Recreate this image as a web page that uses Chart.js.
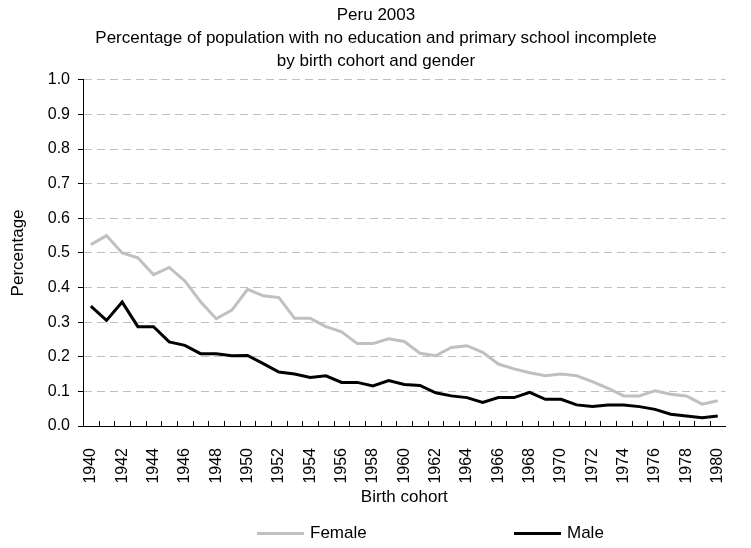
<!DOCTYPE html>
<html>
<head>
<meta charset="utf-8">
<script src="https://cdn.jsdelivr.net/npm/chart.js@4/dist/chart.umd.min.js"></script>
<style>
  html, body { margin: 0; padding: 0; background: #fff; }
  #wrap { position: relative; width: 751px; height: 548px; }
  #legend { position: absolute; left: 0; top: 523px; width: 751px; font: 17px "Liberation Sans", Arial, sans-serif; color: #000; }
  .item { position: absolute; top: 0; display: flex; align-items: center; line-height: 20px; }
  .swatch { display: inline-block; width: 47px; height: 3px; margin-right: 6px; }
</style>
</head>
<body>
<div id="wrap">
  <canvas id="myChart" width="751" height="548"></canvas>
  <div id="legend"></div>
</div>
<script>
const years = [];
for (let y = 1940; y <= 1980; y++) years.push(String(y));

const female = [0.524, 0.550, 0.500, 0.486, 0.437, 0.458, 0.419, 0.359, 0.310, 0.335,
  0.395, 0.376, 0.371, 0.311, 0.311, 0.287, 0.272, 0.238, 0.238, 0.252,
  0.244, 0.210, 0.203, 0.227, 0.232, 0.213, 0.179, 0.165, 0.154, 0.145,
  0.150, 0.145, 0.128, 0.109, 0.087, 0.087, 0.102, 0.092, 0.087, 0.063, 0.073];

const male = [0.346, 0.305, 0.358, 0.287, 0.287, 0.243, 0.233, 0.209, 0.209, 0.203,
  0.204, 0.180, 0.156, 0.150, 0.140, 0.145, 0.126, 0.126, 0.116, 0.131,
  0.120, 0.117, 0.096, 0.087, 0.082, 0.068, 0.082, 0.082, 0.097, 0.077,
  0.077, 0.061, 0.056, 0.061, 0.061, 0.056, 0.048, 0.034, 0.029, 0.024, 0.029];

const titleLines = [
  "Peru 2003",
  "Percentage of population with no education and primary school incomplete",
  "by birth cohort and gender"
];

const FONT = "'Liberation Sans', Arial, sans-serif";

// Excel style tick marks between categories, pointing up into the plot
const innerTicks = {
  id: "innerTicks",
  afterDatasetsDraw(chart) {
    const x = chart.scales.x;
    const ctx = chart.ctx;
    const bottom = chart.chartArea.bottom;
    ctx.save();
    ctx.strokeStyle = "#000";
    ctx.lineWidth = 1;
    ctx.beginPath();
    for (let i = 1; i < years.length; i++) {
      const px = Math.round((x.getPixelForValue(i - 1) + x.getPixelForValue(i)) / 2) + 0.5;
      ctx.moveTo(px, bottom);
      ctx.lineTo(px, bottom - 5);
    }
    ctx.stroke();
    ctx.restore();
  }
};

const chart = new Chart(document.getElementById("myChart").getContext("2d"), {
  type: "line",
  data: {
    labels: years,
    datasets: [
      { label: "Female", data: female, borderColor: "#c0c0c0", backgroundColor: "#c0c0c0", borderWidth: 3, pointRadius: 0, tension: 0 },
      { label: "Male", data: male, borderColor: "#000000", backgroundColor: "#000000", borderWidth: 3, pointRadius: 0, tension: 0 }
    ]
  },
  options: {
    responsive: false,
    animation: false,
    layout: { padding: { left: 4, right: 3, top: 0, bottom: 36 } },
    plugins: {
      legend: { display: false },
      tooltip: { enabled: false },
      title: {
        display: true,
        text: titleLines,
        color: "#000",
        font: { family: FONT, size: 17, weight: "normal", lineHeight: 1.35 },
        padding: { top: 4, bottom: 7 }
      }
    },
    scales: {
      x: {
        offset: true,
        grid: { display: false, offset: true },
        border: { display: true, color: "#000", width: 1 },
        ticks: {
          autoSkip: false,
          maxRotation: 90,
          minRotation: 90,
          color: "#000",
          font: { family: FONT, size: 16 },
          padding: 14,
          callback: function (v, i) { return i % 2 === 0 ? years[i] : ""; }
        },
        title: { display: true, text: "Birth cohort", color: "#000", font: { family: FONT, size: 17 }, padding: { top: 4, bottom: 4 } },
        afterFit: function (scale) { scale.height = 86; }
      },
      y: {
        min: 0,
        max: 1,
        grid: { color: "#c0c0c0", tickColor: "#000", tickLength: 5, tickBorderDash: [] },
        border: { display: true, color: "#000", width: 1, dash: [8, 5] },
        ticks: {
          stepSize: 0.1,
          color: "#000",
          font: { family: FONT, size: 16 },
          padding: 8,
          callback: function (v) { return v.toFixed(1); }
        },
        title: { display: true, text: "Percentage", color: "#000", font: { family: FONT, size: 17 }, padding: { top: 4, bottom: 4 } },
        afterFit: function (scale) { scale.width = 79; }
      }
    }
  },
  plugins: [innerTicks]
});

// legend under the axis title, built from the datasets
const legend = document.getElementById("legend");
const legendX = [257, 514];
chart.data.datasets.forEach(function (ds, i) {
  const item = document.createElement("div");
  item.className = "item";
  item.style.left = legendX[i] + "px";
  const sw = document.createElement("span");
  sw.className = "swatch";
  sw.style.background = ds.borderColor;
  const txt = document.createElement("span");
  txt.textContent = ds.label;
  item.appendChild(sw);
  item.appendChild(txt);
  legend.appendChild(item);
});
</script>
</body>
</html>
